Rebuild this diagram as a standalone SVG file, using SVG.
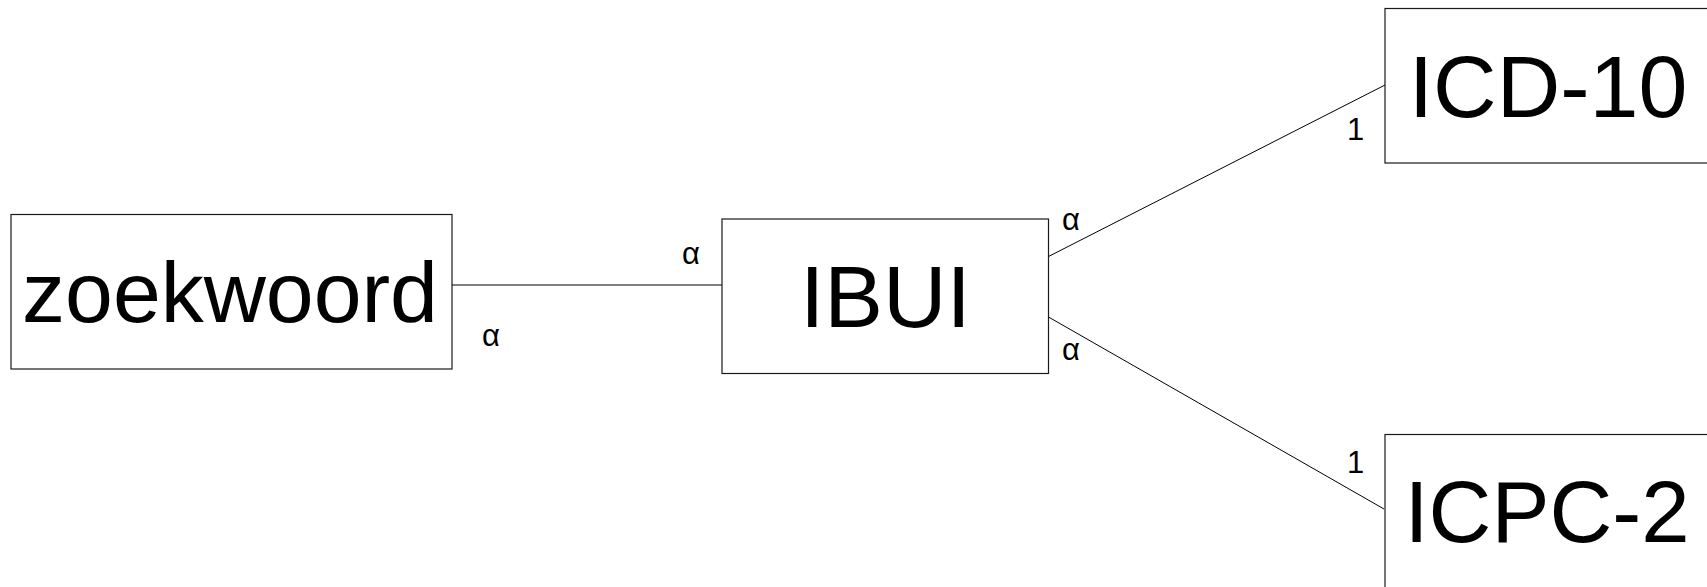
<svg xmlns="http://www.w3.org/2000/svg" width="1707" height="587" viewBox="0 0 1707 587">
  <style>
    .box { fill: #ffffff; stroke: #1a1a1a; stroke-width: 1.2; }
    .name { font-family: "Liberation Sans", Arial, sans-serif; fill: #000000; text-anchor: middle; }
    .edge { stroke: #000000; stroke-width: 1; fill: none; }
    .card { font-family: "Liberation Sans", Arial, sans-serif; font-size: 31px; fill: #000000; }
  </style>
  <rect width="1707" height="587" fill="#ffffff"/>

  <!-- connectors with their multiplicities -->
  <g id="connectors">
    <line class="edge" x1="452" y1="285" x2="722" y2="285"/>
    <line class="edge" x1="1048.5" y1="256.5" x2="1385" y2="85"/>
    <line class="edge" x1="1048.5" y1="317" x2="1384" y2="509"/>
    <text class="card" x="482" y="346">α</text>
    <text class="card" x="682" y="264">α</text>
    <text class="card" x="1062" y="230">α</text>
    <text class="card" x="1062" y="359.5">α</text>
    <text class="card" x="1347" y="139.5">1</text>
    <text class="card" x="1347" y="473">1</text>
  </g>

  <g id="zoekwoord">
    <rect class="box" x="11" y="214.5" width="441" height="154.5"/>
    <text class="name" x="230" y="322" font-size="86">zoekwoord</text>
  </g>

  <g id="ibui">
    <rect class="box" x="722" y="219" width="326.5" height="154.5"/>
    <text class="name" x="885.5" y="327" font-size="88">IBUI</text>
  </g>

  <g id="icd10">
    <rect class="box" x="1385" y="8.5" width="327" height="154.5"/>
    <text class="name" x="1548" y="117" font-size="88">ICD-10</text>
  </g>

  <g id="icpc2">
    <rect class="box" x="1385" y="434.5" width="327" height="154.5"/>
    <text class="name" x="1547" y="542" font-size="87">ICPC-2</text>
  </g>
</svg>
